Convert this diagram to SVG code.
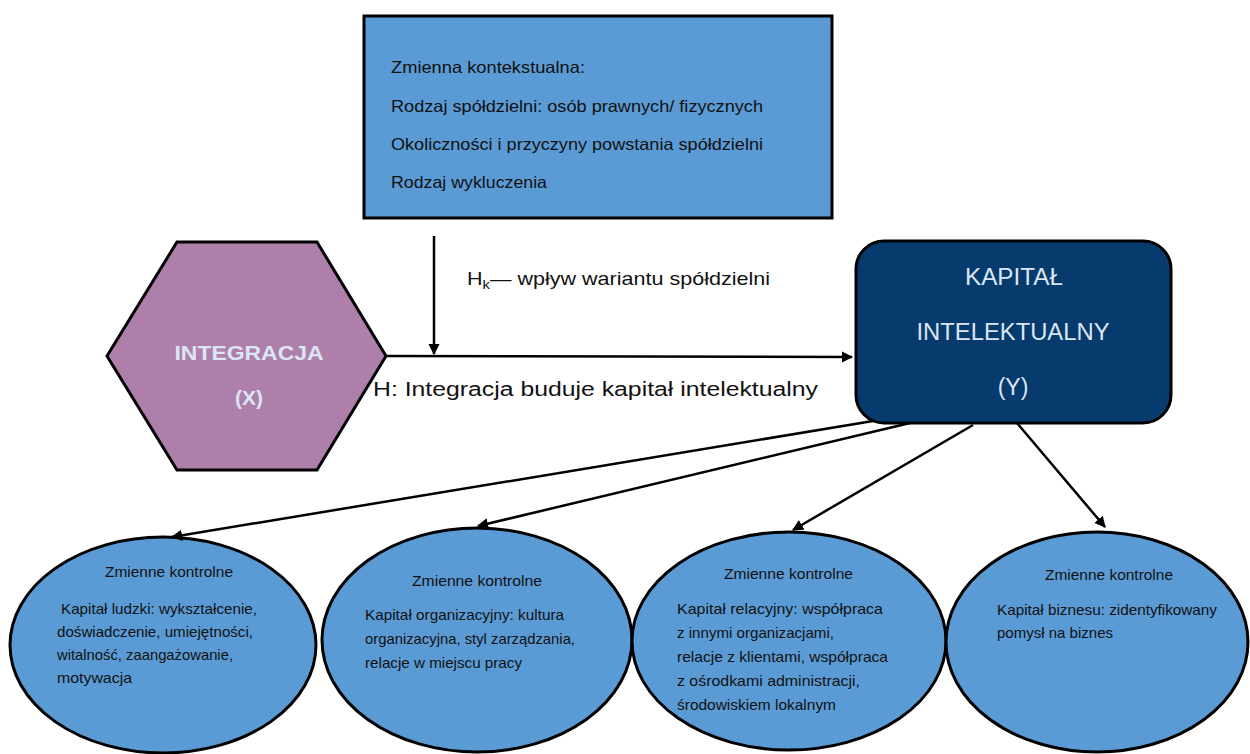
<svg xmlns="http://www.w3.org/2000/svg" width="1250" height="754" viewBox="0 0 1250 754">
<defs>
<marker id="ah" viewBox="0 0 10 10" refX="9" refY="5" markerWidth="4.5" markerHeight="4.5" orient="auto" markerUnits="strokeWidth">
<path d="M0,0 L10,5 L0,10 z" fill="#000"/>
</marker>
<style>
.box{fill:#5b9bd5;stroke:#000;stroke-width:3}
.t{font-family:"Liberation Sans",Arial,sans-serif;fill:#111}
.w{font-family:"Liberation Sans",Arial,sans-serif;fill:#dce6f2}
.c{stroke:#000;stroke-width:2.5;fill:none;marker-end:url(#ah)}
.s{font-size:16.5px}
.e{font-size:14.5px}
</style>
</defs>
<rect width="1250" height="754" fill="#fff"/>
<g id="context">
<rect class="box" x="364" y="16" width="468" height="202"/>
<text class="t s" x="391" y="73" textLength="194" lengthAdjust="spacingAndGlyphs">Zmienna kontekstualna:</text>
<text class="t s" x="391" y="112" textLength="372" lengthAdjust="spacingAndGlyphs">Rodzaj spółdzielni: osób prawnych/ fizycznych</text>
<text class="t s" x="391" y="150" textLength="372" lengthAdjust="spacingAndGlyphs">Okoliczności i przyczyny powstania spółdzielni</text>
<text class="t s" x="391" y="188" textLength="156" lengthAdjust="spacingAndGlyphs">Rodzaj wykluczenia</text>
</g>
<g id="integracja">
<polygon points="107,356 177,242 317,242 386,356 317,470 177,470" fill="#ae7fab" stroke="#000" stroke-width="3"/>
<text class="w" x="249" y="360" text-anchor="middle" font-size="21" font-weight="bold" textLength="149" lengthAdjust="spacingAndGlyphs">INTEGRACJA</text>
<text class="w" x="249" y="405" text-anchor="middle" font-size="21" font-weight="bold">(X)</text>
</g>
<g id="kapital">
<rect x="856" y="241" width="315" height="182" rx="28" ry="28" fill="#073b6e" stroke="#000" stroke-width="3"/>
<text class="w" x="1014" y="285" text-anchor="middle" font-size="23" textLength="98" lengthAdjust="spacingAndGlyphs">KAPITAŁ</text>
<text class="w" x="1013" y="340" text-anchor="middle" font-size="23" textLength="193" lengthAdjust="spacingAndGlyphs">INTELEKTUALNY</text>
<text class="w" x="1013" y="395" text-anchor="middle" font-size="23">(Y)</text>
</g>
<g id="labels">
<text class="t" x="467" y="285" font-size="19" textLength="303" lengthAdjust="spacingAndGlyphs">H<tspan font-size="13" dy="4">k</tspan><tspan dy="-4">— wpływ wariantu spółdzielni</tspan></text>
<text class="t" x="373" y="396" font-size="20" textLength="445" lengthAdjust="spacingAndGlyphs">H: Integracja buduje kapitał intelektualny</text>
</g>
<g id="e1">
<ellipse class="box" cx="163" cy="645" rx="153" ry="108"/>
<text class="t e" x="105" y="577" textLength="128" lengthAdjust="spacingAndGlyphs">Zmienne kontrolne</text>
<text class="t e" x="61" y="614" textLength="196" lengthAdjust="spacingAndGlyphs">Kapitał ludzki: wykształcenie,</text>
<text class="t e" x="57" y="637" textLength="196" lengthAdjust="spacingAndGlyphs">doświadczenie, umiejętności,</text>
<text class="t e" x="57" y="660" textLength="176" lengthAdjust="spacingAndGlyphs">witalność, zaangażowanie,</text>
<text class="t e" x="57" y="683" textLength="75" lengthAdjust="spacingAndGlyphs">motywacja</text>
</g>
<g id="e2">
<ellipse class="box" cx="477" cy="640" rx="155" ry="112"/>
<text class="t e" x="412" y="586" textLength="130" lengthAdjust="spacingAndGlyphs">Zmienne kontrolne</text>
<text class="t e" x="365" y="620" textLength="199" lengthAdjust="spacingAndGlyphs">Kapitał organizacyjny: kultura</text>
<text class="t e" x="365" y="644" textLength="210" lengthAdjust="spacingAndGlyphs">organizacyjna, styl zarządzania,</text>
<text class="t e" x="365" y="668" textLength="157" lengthAdjust="spacingAndGlyphs">relacje w miejscu pracy</text>
</g>
<g id="e3">
<ellipse class="box" cx="789" cy="641" rx="157" ry="109"/>
<text class="t e" x="724" y="579" textLength="129" lengthAdjust="spacingAndGlyphs">Zmienne kontrolne</text>
<text class="t e" x="677" y="614" textLength="206" lengthAdjust="spacingAndGlyphs">Kapitał relacyjny: współpraca</text>
<text class="t e" x="677" y="638" textLength="157" lengthAdjust="spacingAndGlyphs">z innymi organizacjami,</text>
<text class="t e" x="677" y="662" textLength="211" lengthAdjust="spacingAndGlyphs">relacje z klientami,  współpraca</text>
<text class="t e" x="677" y="686" textLength="183" lengthAdjust="spacingAndGlyphs">z ośrodkami  administracji,</text>
<text class="t e" x="677" y="710" textLength="159" lengthAdjust="spacingAndGlyphs">środowiskiem lokalnym</text>
</g>
<g id="e4">
<ellipse class="box" cx="1097" cy="642" rx="151" ry="110"/>
<text class="t e" x="1045" y="580" textLength="128" lengthAdjust="spacingAndGlyphs">Zmienne kontrolne</text>
<text class="t e" x="997" y="615" textLength="220" lengthAdjust="spacingAndGlyphs">Kapitał biznesu: zidentyfikowany</text>
<text class="t e" x="997" y="638" textLength="116" lengthAdjust="spacingAndGlyphs">pomysł na biznes</text>
</g>
<g id="connectors">
<line class="c" x1="434" y1="236" x2="434" y2="354"/>
<line class="c" x1="386" y1="356" x2="852" y2="357"/>
<line class="c" x1="873" y1="421" x2="172" y2="537"/>
<line class="c" x1="910" y1="423" x2="478" y2="526"/>
<line class="c" x1="973" y1="425" x2="793" y2="530"/>
<line class="c" x1="1017" y1="423" x2="1105" y2="527"/>
</g>
</svg>
